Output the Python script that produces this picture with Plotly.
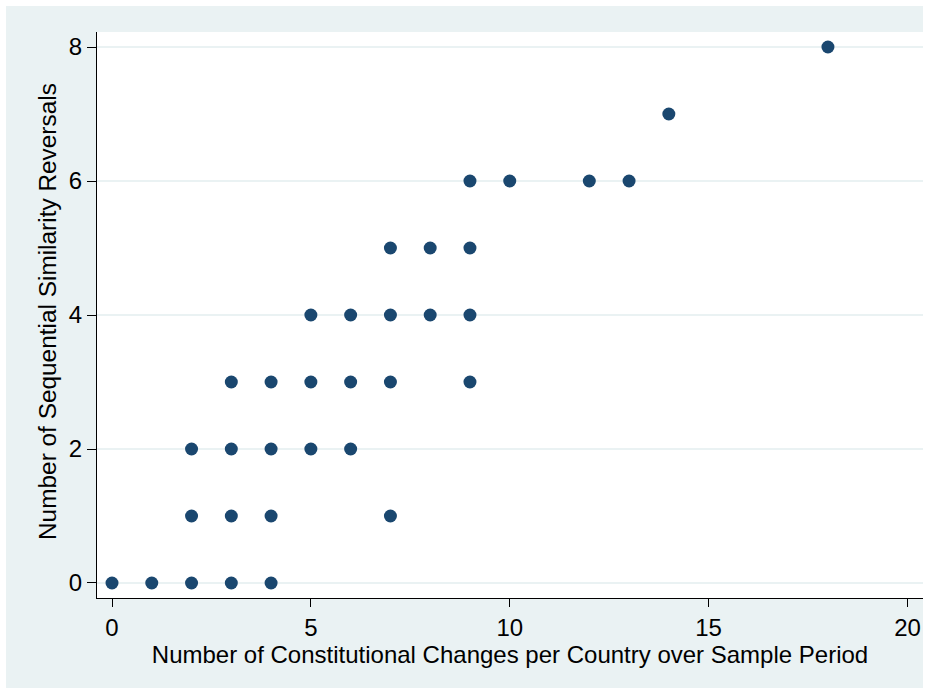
import plotly.graph_objects as go

# Constitutional changes (x) vs. sequential similarity reversals (y), one entry per country group
changes = [0, 1, 2, 3, 4,
           2, 3, 4, 7,
           2, 3, 4, 5, 6,
           3, 4, 5, 6, 7, 9,
           5, 6, 7, 8, 9,
           7, 8, 9,
           9, 10, 12, 13,
           14,
           18]
reversals = [0, 0, 0, 0, 0,
             1, 1, 1, 1,
             2, 2, 2, 2, 2,
             3, 3, 3, 3, 3, 3,
             4, 4, 4, 4, 4,
             5, 5, 5,
             6, 6, 6, 6,
             7,
             8]

x_ticks = [0, 5, 10, 15, 20]
y_ticks = [0, 2, 4, 6, 8]

x_title = "Number of Constitutional Changes per Country over Sample Period"
y_title = "Number of Sequential Similarity Reversals"

NAVY = "#1A476F"
BG = "#EAF2F3"
FONT = "Liberation Sans, Arial, sans-serif"

W, H = 936, 688
L, R, T, B = 97, 13, 32, 90
pw, ph = W - L - R, H - T - B


def px_x(p):
    return (p - L) / pw


def px_y(p):
    return (H - B - p) / ph


fig = go.Figure(
    go.Scatter(
        x=changes, y=reversals, mode="markers",
        marker=dict(size=13, color=NAVY, line=dict(width=0)),
        showlegend=False, hoverinfo="x+y",
    )
)

# white frame strips around the tinted graph region
frame = [
    (0, 0, 6, H),      # left
    (0, 0, W, 6),      # top
    (W - R, 0, W, H),  # right
]
for x0, y0, x1, y1 in frame:
    fig.add_shape(type="rect", xref="paper", yref="paper",
                  x0=px_x(x0), x1=px_x(x1), y0=px_y(y1), y1=px_y(y0),
                  fillcolor="white", line=dict(width=0), layer="below")

# vertical axis title
fig.add_annotation(
    text=y_title, textangle=-90, showarrow=False,
    xref="paper", yref="paper", x=px_x(47), y=px_y(312),
    xanchor="center", yanchor="middle",
    font=dict(size=24.4, family=FONT, color="black"),
)

fig.update_layout(
    width=W, height=H,
    margin=dict(l=L, r=R, t=T, b=B, pad=0),
    paper_bgcolor=BG, plot_bgcolor="white",
    font=dict(family=FONT, size=24, color="black"),
)

fig.update_xaxes(
    range=[-0.377, 20.39], tickvals=x_ticks, ticktext=[str(v) for v in x_ticks],
    showgrid=False, zeroline=False,
    showline=True, linecolor="black", linewidth=1,
    ticks="outside", ticklen=8, tickcolor="black", tickwidth=1,
    tickfont=dict(size=24),
    title=dict(text=x_title, font=dict(size=24), standoff=0),
    automargin=False,
)
fig.update_yaxes(
    range=[-0.224, 8.224], tickvals=y_ticks, ticktext=[str(v) for v in y_ticks],
    showgrid=True, gridcolor=BG, gridwidth=2, zeroline=False,
    showline=True, linecolor="black", linewidth=1,
    ticks="outside", ticklen=9, tickcolor="black", tickwidth=1,
    tickfont=dict(size=24),
    automargin=False,
)

fig.write_html("out.html")
